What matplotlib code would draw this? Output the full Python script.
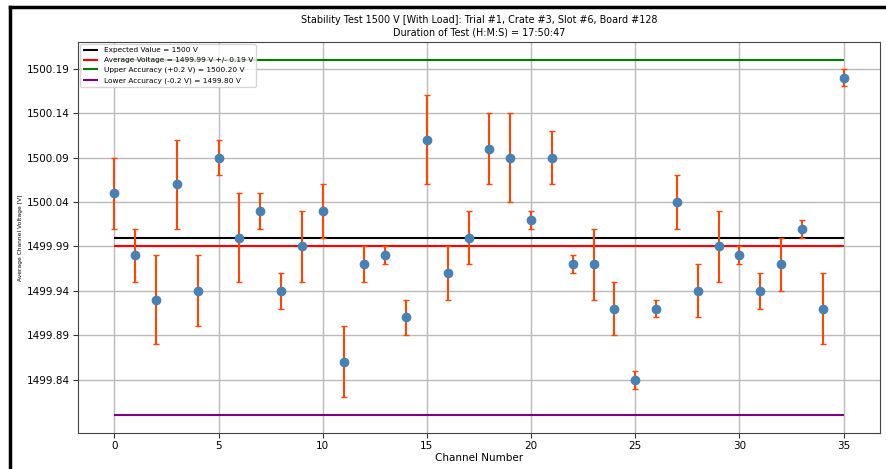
import numpy as np
import matplotlib
matplotlib.use('Agg')
import matplotlib.pyplot as plt
from matplotlib.lines import Line2D

# channel averages and their spread
channels = list(range(36))
avg_v = [1500.05, 1499.98, 1499.93, 1500.06, 1499.94, 1500.09, 1500.00, 1500.03, 1499.94, 1499.99,
         1500.03, 1499.86, 1499.97, 1499.98, 1499.91, 1500.11, 1499.96, 1500.00, 1500.10, 1500.09,
         1500.02, 1500.09, 1499.97, 1499.97, 1499.92, 1499.84, 1499.92, 1500.04, 1499.94, 1499.99,
         1499.98, 1499.94, 1499.97, 1500.01, 1499.92, 1500.18]
err_v = [0.04, 0.03, 0.05, 0.05, 0.04, 0.02, 0.05, 0.02, 0.02, 0.04,
         0.03, 0.04, 0.02, 0.01, 0.02, 0.05, 0.03, 0.03, 0.04, 0.05,
         0.01, 0.03, 0.01, 0.04, 0.03, 0.01, 0.01, 0.03, 0.03, 0.04,
         0.01, 0.02, 0.03, 0.01, 0.04, 0.01]

expected = 1500.0
average = 1499.99
upper = 1500.20
lower = 1499.80
ytick_vals = [1499.84, 1499.89, 1499.94, 1499.99, 1500.04, 1500.09, 1500.14, 1500.19]

narrow = ['Liberation Sans Narrow', 'DejaVu Sans']

fig = plt.figure(figsize=(8.86, 4.69), dpi=100)
ax = fig.add_axes([78/886, 1 - 433/469, (880-78)/886, (433-42)/469])

ax.hlines(expected, channels[0], channels[-1], colors='black', lw=1.5, label='Expected Value = 1500 V')
ax.hlines(average, channels[0], channels[-1], colors='red', lw=1.5,
          label='Average Voltage = 1499.99 V +/- 0.19 V')
ax.hlines(upper, channels[0], channels[-1], colors='green', lw=1.5,
          label='Upper Accuracy (+0.2 V) = 1500.20 V')
ax.hlines(lower, channels[0], channels[-1], colors='purple', lw=1.5,
          label='Lower Accuracy (-0.2 V) = 1499.80 V')

ax.errorbar(channels, avg_v, yerr=err_v, fmt='o', color='steelblue', ms=6,
            ecolor='orangered', elinewidth=1.5, capsize=2.5, capthick=1, zorder=3)

ax.set_yticks(ytick_vals)
ax.set_yticklabels(['%.2f' % v for v in ytick_vals])
ax.tick_params(labelsize=7.5, color='#333333', pad=2.5)
ax.grid(True, color='#bbbbbb', lw=1)
for s in ax.spines.values():
    s.set_color('#444444')

ax.set_xlabel('Channel Number', fontsize=7.5, labelpad=1)
ax.set_ylabel('Average Channel Voltage [V]', fontsize=4.3, family=narrow)
ax.yaxis.set_label_coords(-0.068, 0.5)
ax.set_title('Stability Test 1500 V [With Load]: Trial #1, Crate #3, Slot #6, Board #128\n'
             'Duration of Test (H:M:S) = 17:50:47', fontsize=6.9, pad=5)
ax.legend(loc='upper left', fontsize=5.3, borderaxespad=0.3, handlelength=2)

# screenshot frame around the figure
fig.add_artist(Line2D([10/886, 10/886], [0, 1 - 7/469], color='black', lw=2.5))
fig.add_artist(Line2D([10/886, 1], [1 - 7/469, 1 - 7/469], color='black', lw=2.5))

fig.savefig('out.png', dpi=100)
